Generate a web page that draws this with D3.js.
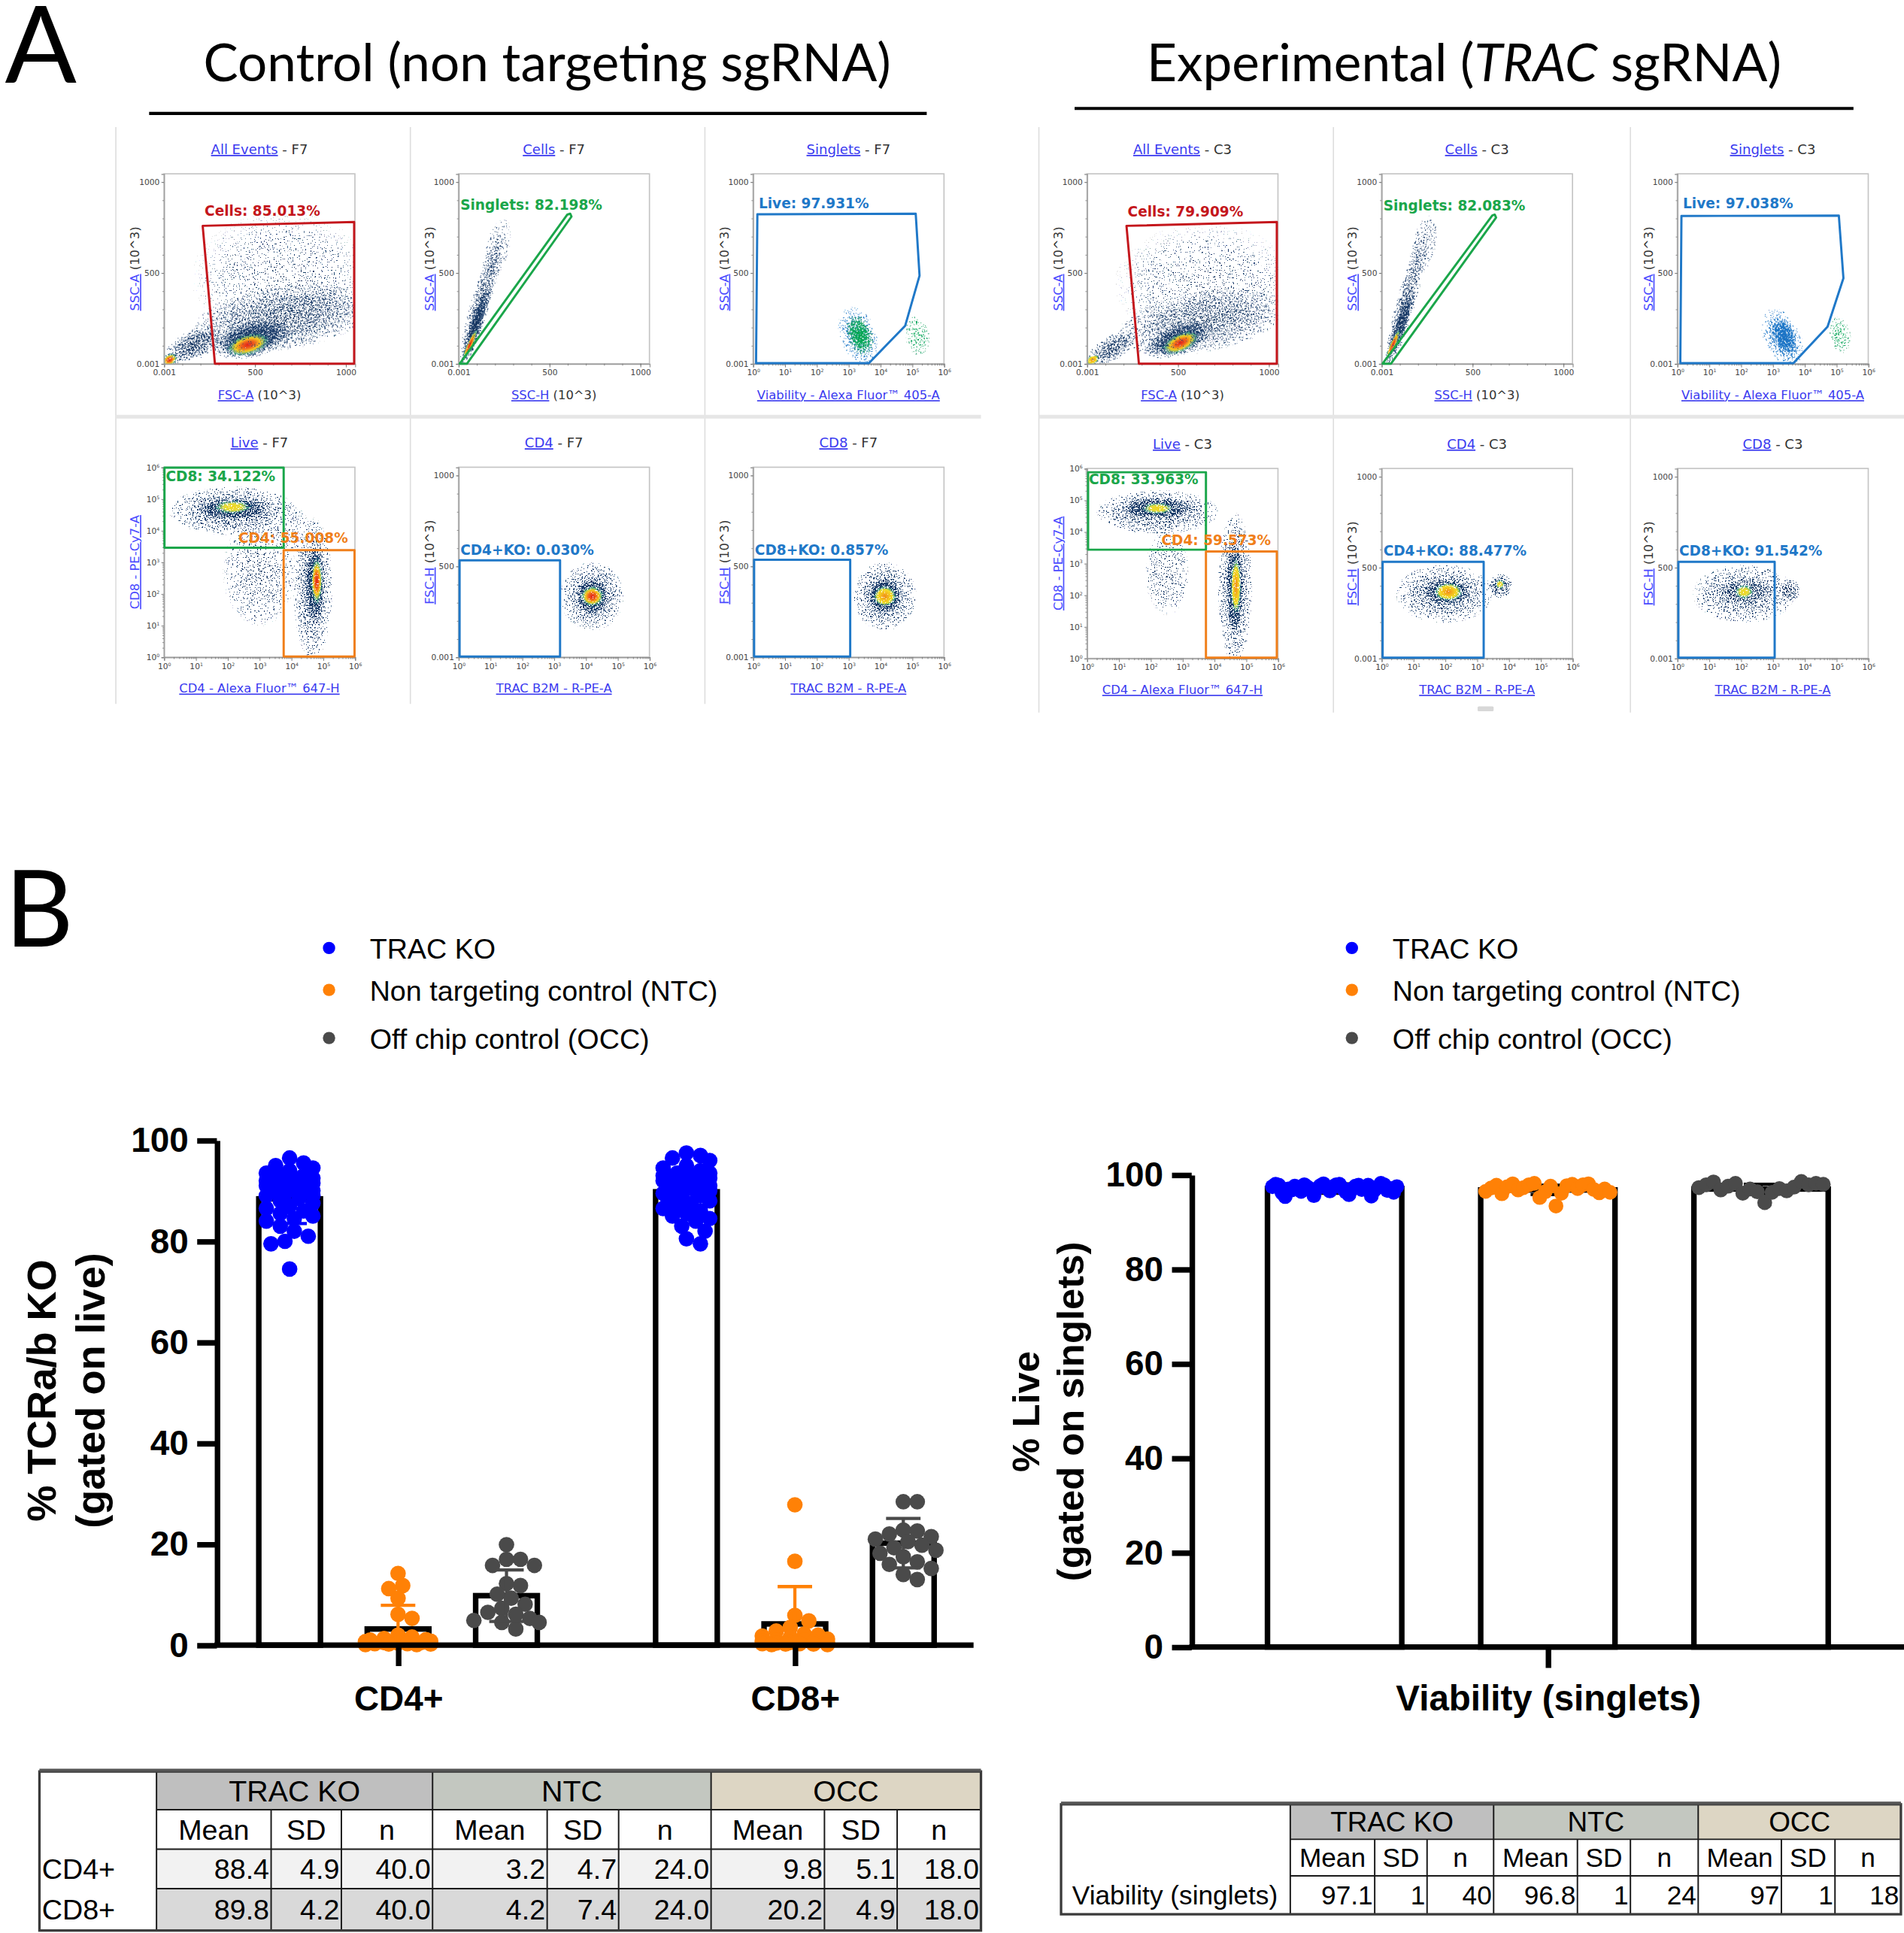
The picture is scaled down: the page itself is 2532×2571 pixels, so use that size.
<!DOCTYPE html>
<html>
<head>
<meta charset="utf-8">
<script src="https://cdn.jsdelivr.net/npm/d3@7"></script>
<style>
  body { margin: 0; background: #fff; }
  svg { display: block; }
</style>
</head>
<body>
<script>
// ---------- DATA : panel B ----------
var cellTypes = ["CD4+", "CD8+"]
var groupNames = ["TRAC KO", "Non targeting control (NTC)", "Off chip control (OCC)"]
var groupShort = ["TRAC KO", "NTC", "OCC"]
var groupColors = ["#0000ff", "#ff8106", "#4a4a4a"]
var koTicks = [0, 20, 40, 60, 80, 100]

var koMean = [[88.4, 3.2, 9.8], [89.8, 4.2, 20.2]]
var koSD = [[4.9, 4.7, 5.1], [4.2, 7.4, 4.9]]
var koN = [[40, 24, 18], [40, 24, 18]]

var cd4Trac = [96.5, 95.5, 95, 94.5, 94, 93.5, 93, 93, 92.5, 92.5, 92, 92, 91.5, 91.5, 91, 91, 90.5, 90.5, 90, 90,
  89.5, 89.5, 89, 89, 88.5, 88, 87.5, 87, 86.5, 86, 85.5, 85, 84.5, 84, 83, 82, 81, 80, 79.5, 74.5]
var cd4Ntc = [14.2, 11.8, 11.2, 9.3, 6.1, 5.3, 2.0, 1.6, 1.3, 1.1, 1.0, 0.9, 0.8, 0.7, 0.6, 0.5, 0.5, 0.4, 0.3, 0.3, 0.2, 0.2, 0.1, 0.1]
var cd4Occ = [19.9, 17, 17, 15.8, 15.8, 12.2, 11.8, 10.1, 9.3, 8.1, 7.3, 6.5, 6.1, 5.3, 4.9, 4.5, 4.5, 3.2]
var cd8Trac = [97.5, 97, 96.5, 96, 95, 94.5, 94, 93.5, 93.5, 93, 93, 92.5, 92.5, 92, 92, 91.5, 91.5, 91, 91, 90.5,
  90.5, 90, 90, 89.5, 89, 89, 88.5, 88, 87.5, 87, 86.5, 86, 85.5, 85, 84.5, 84, 83, 82, 80.5, 79.5]
var cd8Ntc = [27.8, 16.6, 5.9, 4.8, 3.5, 2.8, 2.2, 2.0, 1.8, 1.5, 1.2, 1.0, 1.0, 0.8, 0.6, 0.5, 0.5, 0.4, 0.3, 0.3, 0.2, 0.2, 0.1, 0.1]
var cd8Occ = [28.4, 28.4, 22.8, 22.6, 22, 21.5, 21, 20.5, 19.8, 19.3, 18.8, 18.2, 17.5, 16.5, 16, 15.2, 14, 13]

var viaLabel = "Viability (singlets)"
var viaMean = [97.1, 96.8, 97]
var viaSD = [1, 1, 1]
var viaN = [40, 24, 18]
var viaTrac = [97.5, 98.0, 97.8, 96.2, 95.4, 97.0, 96.8, 97.6, 97.2, 96.5, 97.9, 97.4, 96.9, 95.6, 97.1, 97.7, 98.1, 97.3, 96.6, 97.5,
  97.9, 98.0, 97.2, 96.4, 95.8, 97.0, 97.6, 97.8, 96.9, 97.3, 97.8, 95.5, 96.8, 97.4, 98.2, 97.9, 96.7, 97.1, 96.3, 97.5]
var viaNtc = [96.5, 97.2, 97.8, 96.0, 97.5, 98.1, 96.8, 97.3, 97.9, 98.2, 95.2, 96.4, 97.6, 93.4, 96.1, 97.7, 98.0, 97.1, 97.9, 98.1, 96.9, 96.2, 97.0, 96.3]
var viaOcc = [97.3, 97.9, 98.5, 96.8, 97.6, 98.2, 96.1, 97.0, 96.4, 94.1, 96.3, 97.1, 96.6, 97.4, 98.6, 97.9, 98.2, 98.0]

// ---------- DATA : panel A (gating) ----------
var setTitles = ["Control (non targeting sgRNA)", "Experimental (TRAC sgRNA)"]
var wells = ["F7", "C3"]
var plotTitles = ["All Events", "Cells", "Singlets", "Live", "CD4", "CD8"]
var xLabels = [["FSC-A", " (10^3)"], ["SSC-H", " (10^3)"], ["Viability - Alexa Fluor\u2122 405-A", ""],
  ["CD4 - Alexa Fluor\u2122 647-H", ""], ["TRAC B2M - R-PE-A", ""], ["TRAC B2M - R-PE-A", ""]]
var yLabels = [["SSC-A", " (10^3)"], ["SSC-A", " (10^3)"], ["SSC-A", " (10^3)"],
  ["CD8 - PE-Cy7-A", ""], ["FSC-H", " (10^3)"], ["FSC-H", " (10^3)"]]
var xAxisType = ["lin", "lin", "log", "log", "log", "log"]
var yAxisType = ["lin", "lin", "lin", "log", "lin", "lin"]
var linTicks = [0, 500, 1000]
var logTicks = [0, 1, 2, 3, 4, 5, 6]

var gateNames = ["Cells", "Singlets", "Live", "CD8", "CD4", "CD4+KO", "CD8+KO"]
var gatePlot = [0, 1, 2, 3, 3, 4, 5]
var gatePct = [[85.013, 82.198, 97.931, 34.122, 55.008, 0.030, 0.857],
               [79.909, 82.083, 97.038, 33.963, 59.573, 88.477, 91.542]]

// ---------- LAYOUT ----------
var VW = 1545, VH = 1568
var red = "#c4161c", green = "#1aa64a", blue = "#1f78c8", orange = "#f07f1a", link = "#3a3af0"
var gateColors = [red, green, blue, green, orange, blue, blue]

// gate outlines, in fractions of the plot box
var gateShapes = [
  [
    [[.203, .726], [.996, .746], [.996, 0], [.267, 0]],
    [[.007, 0], [.57, .785], [.585, .79], [.592, .775], [.045, 0]],
    [[.023, .787], [.852, .79], [.872, .464], [.797, .2], [.607, .003], [.016, .003]],
    [[.003, .576], [.627, .576], [.627, .998], [.003, .998]],
    [[.627, .003], [.998, .003], [.998, .563], [.627, .563]],
    [[.006, .003], [.532, .003], [.532, .51], [.006, .51]],
    [[.006, .003], [.509, .003], [.509, .513], [.006, .513]]
  ],
  [
    [[.207, .726], [.994, .746], [.994, 0], [.272, 0]],
    [[.006, 0], [.58, .78], [.593, .785], [.6, .77], [.05, 0]],
    [[.022, .778], [.846, .78], [.87, .45], [.787, .195], [.608, .003], [.016, .003]],
    [[.006, .572], [.623, .572], [.623, .98], [.006, .98]],
    [[.623, .003], [.994, .003], [.994, .563], [.623, .563]],
    [[.006, .003], [.535, .003], [.535, .508], [.006, .508]],
    [[.006, .003], [.51, .003], [.51, .508], [.006, .508]]
  ]
]
var gateLabelPos = [
  [[.213, .78], [.01, .81], [.03, .82], [.01, .925], [.39, .6], [.01, .54], [.01, .54]],
  [[.213, .774], [.01, .807], [.03, .817], [.01, .918], [.39, .596], [.01, .539], [.01, .539]]
]

// event clouds: [fx, fy, rx, ry, rot, density, colour]
var clouds = [
  [
    [[.62, .45, 75, 55, 0, .05], [.62, .24, 74, 26, -8, .42], [.16, .1, 26, 12, -25, .6], [.46, .13, 34, 15, -12, .9]],
    [[.2, .6, 26, 10, -75, .18], [.12, .33, 56, 8, -73, .5], [.09, .2, 34, 5.5, -72, .9]],
    [[.55, .15, 15, 24, -20, .45, "b"], [.56, .15, 10, 17, -20, .95, "g"], [.86, .15, 10, 17, -10, .3, "g"]],
    [[.5, .45, 30, 45, 0, .14], [.62, .68, 22, 22, 0, .12], [.36, .77, 52, 20, 0, .42], [.36, .78, 38, 11, 0, .85],
     [.78, .36, 16, 58, 0, .38], [.79, .38, 10, 40, 0, .9]],
    [[.7, .32, 26, 28, 0, .4], [.7, .32, 17, 19, 0, .9]],
    [[.69, .32, 26, 28, 0, .4], [.69, .32, 17, 19, 0, .9]]
  ],
  [
    [[.62, .42, 75, 50, 0, .05], [.6, .22, 70, 25, -10, .36], [.13, .08, 22, 10, -30, .55], [.48, .13, 30, 13, -20, .85]],
    [[.22, .62, 26, 10, -76, .18], [.13, .33, 56, 8, -74, .45], [.1, .2, 34, 5.5, -72, .85]],
    [[.55, .14, 15, 25, -25, .45, "b"], [.56, .14, 10, 18, -25, .95, "b"], [.85, .15, 9, 15, -10, .3, "g"]],
    [[.42, .45, 18, 35, 0, .15], [.37, .77, 50, 18, 0, .38], [.37, .79, 38, 11, 0, .8],
     [.775, .37, 14, 62, 0, .38], [.775, .37, 9, 48, 0, .85]],
    [[.33, .34, 40, 24, 0, .36], [.34, .35, 26, 14, 0, .8], [.62, .38, 10, 10, 0, .6]],
    [[.35, .34, 42, 24, 0, .32], [.35, .35, 28, 14, 0, .6], [.58, .36, 10, 10, 0, .5]]
  ]
]
// dense cores: [fx, fy, rx, ry, rot, heat]
var cores = [
  [
    [[.44, .1, 19, 9, -15, 1], [.03, .02, 7, 5, -30, .8]],
    [[.06, .1, 15, 2.5, -66, .9]],
    [],
    [[.36, .79, 16, 6, 0, .55], [.8, .4, 5, 20, 0, .85]],
    [[.7, .32, 10, 9, 0, .95]],
    [[.69, .32, 10, 9, 0, .75]]
  ],
  [
    [[.49, .11, 17, 8, -25, .85], [.03, .02, 6, 4, -30, .7]],
    [[.06, .1, 15, 2.5, -66, .85]],
    [],
    [[.37, .79, 14, 5, 0, .5], [.78, .38, 4.5, 24, 0, .6]],
    [[.35, .35, 12, 8, 0, .7], [.62, .39, 4, 4, 0, .45]],
    [[.35, .35, 8, 6, 0, .45]]
  ]
]

var boxLeft = [[133, 372, 611], [882, 1121, 1361]]
var boxTop = [141, 379]
var boxW = 155, boxH = 154
var cellX = [[94, 333, 572, 796], [843, 1082, 1323, 1545]]

var svg = d3.select("body").append("svg")
  .attr("width", 2532)
  .attr("height", 2571)
  .attr("viewBox", "0 0 " + VW + " " + VH)
  .attr("preserveAspectRatio", "none")

var defs = svg.append("defs")

// speckle filter: turns a soft cloud into scattered event dots
var spk = defs.append("filter").attr("id", "spk")
  .attr("x", "-15%").attr("y", "-15%").attr("width", "130%").attr("height", "130%")
  .attr("color-interpolation-filters", "sRGB")
spk.append("feTurbulence").attr("type", "fractalNoise").attr("baseFrequency", 0.9)
  .attr("numOctaves", 2).attr("seed", 5).attr("result", "n")
spk.append("feColorMatrix").attr("in", "n").attr("type", "matrix")
  .attr("values", "0 0 0 0 0  0 0 0 0 0  0 0 0 0 0  2.6 0 0 0 -0.8").attr("result", "na")
spk.append("feComposite").attr("in", "SourceAlpha").attr("in2", "na").attr("operator", "arithmetic")
  .attr("k1", 0).attr("k2", 30).attr("k3", -30).attr("k4", 0).attr("result", "m")
spk.append("feColorMatrix").attr("in", "SourceGraphic").attr("type", "matrix")
  .attr("values", "1 0 0 0 0  0 1 0 0 0  0 0 1 0 0  0 0 0 0 1").attr("result", "solid")
spk.append("feComposite").attr("in", "solid").attr("in2", "m").attr("operator", "in")

function radial(id, stops) {
  var gr = defs.append("radialGradient").attr("id", id)
  stops.forEach(function(s) {
    gr.append("stop").attr("offset", s[0]).attr("stop-color", s[1]).attr("stop-opacity", s[2])
  })
}
radial("spk-n", [[0, "#16355f", 1], [.55, "#1b3d6b", .75], [1, "#1d4272", 0]])
radial("spk-g", [[0, "#00a651", 1], [.6, "#10a860", .7], [1, "#2a9d6a", 0]])
radial("spk-b", [[0, "#1c73c4", 1], [.6, "#1f78c8", .7], [1, "#2b7fcc", 0]])
radial("hot-r", [[0, "#e0201c", 1], [.3, "#f0641c", 1], [.55, "#f6cc1f", 1], [.78, "#4fae8c", .55], [1, "#23608c", 0]])
radial("hot-o", [[0, "#f08a1c", 1], [.35, "#f4bf1e", 1], [.6, "#f2de2a", .9], [.8, "#4fae8c", .5], [1, "#23608c", 0]])
radial("hot-y", [[0, "#f3d51f", 1], [.45, "#e6dc3c", .85], [.75, "#49a58e", .5], [1, "#23608c", 0]])

// ---------- PANEL A ----------
svg.append("text").attr("x", 4).attr("y", 67)
  .style("font-family", "Lato, 'Open Sans', sans-serif").style("font-size", "86px")
  .text("A")

var titleX = [444, 1188], titleW = [558, 515], lineX = [[121, 752], [872, 1504]], lineY = [92, 88]

setTitles.forEach(function(t, s) {
  var txt = svg.append("text").attr("x", titleX[s]).attr("y", 66)
    .attr("text-anchor", "middle")
    .attr("textLength", titleW[s]).attr("lengthAdjust", "spacingAndGlyphs")
    .style("font-family", "Lato, 'Open Sans', sans-serif").style("font-size", "43px")
  if (s == 0) {
    txt.text(t)
  } else {
    txt.append("tspan").text("Experimental (")
    txt.append("tspan").style("font-style", "italic").text("TRAC")
    txt.append("tspan").text(" sgRNA)")
  }
  svg.append("line").attr("x1", lineX[s][0]).attr("x2", lineX[s][1])
    .attr("y1", lineY[s]).attr("y2", lineY[s])
    .attr("stroke", "#000").attr("stroke-width", 2.5)
})

// grid separators
;[0, 1].forEach(function(s) {
  var cx = cellX[s]
  var grid = svg.append("g").attr("stroke", "#dedede")
  cx.slice(0, 3).forEach(function(x) {
    grid.append("line").attr("x1", x).attr("x2", x).attr("y1", 103).attr("y2", s ? 578 : 571).attr("stroke-width", 1)
  })
  grid.append("line").attr("x1", cx[0]).attr("x2", cx[3]).attr("y1", 338).attr("y2", 338)
    .attr("stroke", "#e6e6e6").attr("stroke-width", 3)
})
svg.append("rect").attr("x", 1199).attr("y", 573).attr("width", 13).attr("height", 4)
  .attr("rx", 1).attr("fill", "#d8d8d8")

var flowFont = "'DejaVu Sans', Verdana, sans-serif"

function logMinor() {
  var out = []
  for (var k = 0; k < 6; k++) for (var m = 2; m < 10; m++) out.push(k + Math.log10(m))
  return out
}

function styleAxis(a, fs) {
  a.select(".domain").attr("stroke", "#9a9a9a").attr("stroke-width", 0.8)
  a.selectAll(".tick line").attr("stroke", "#777").attr("stroke-width", 0.6)
  a.selectAll("text").attr("fill", "#444").style("font-family", flowFont).style("font-size", fs + "px")
  a.attr("font-family", null).attr("font-size", null)
}

function superscript(a) {
  a.selectAll(".tick text").each(function(d) {
    var t = d3.select(this)
    t.text("10")
    t.append("tspan").attr("dy", -2.5).style("font-size", "3.8px").text(d)
  })
}

function drawFlow(s, p) {
  var row = p < 3 ? 0 : 1, col = p % 3
  var bx = boxLeft[s][col], by = boxTop[row] + (s == 1 && row == 1 ? 1 : 0)
  var fx = d3.scaleLinear().domain([0, 1]).range([bx, bx + boxW])
  var fy = d3.scaleLinear().domain([0, 1]).range([by + boxH, by])
  var g = svg.append("g").attr("class", "flow")

  // title
  var tt = g.append("text").attr("x", bx + boxW / 2).attr("y", by - 16).attr("text-anchor", "middle")
    .style("font-family", flowFont).style("font-size", "11px")
  tt.append("tspan").attr("fill", link).attr("text-decoration", "underline").text(plotTitles[p])
  tt.append("tspan").attr("fill", "#333").text(" - " + wells[s])

  // frame
  g.append("rect").attr("x", bx).attr("y", by).attr("width", boxW).attr("height", boxH)
    .attr("fill", "#fff").attr("stroke", "#c4c4c4").attr("stroke-width", 1)

  // events
  var cid = "clip" + s + p
  defs.append("clipPath").attr("id", cid).append("rect")
    .attr("x", bx).attr("y", by).attr("width", boxW).attr("height", boxH)
  var ev = g.append("g").attr("clip-path", "url(#" + cid + ")")
  clouds[s][p].forEach(function(c) {
    var cx = fx(c[0]), cy = fy(c[1])
    ev.append("ellipse").attr("cx", cx).attr("cy", cy).attr("rx", c[2]).attr("ry", c[3])
      .attr("transform", "rotate(" + c[4] + "," + cx + "," + cy + ")")
      .attr("fill", "url(#spk-" + (c[6] || "n") + ")").attr("fill-opacity", c[5])
      .attr("filter", "url(#spk)")
  })
  cores[s][p].forEach(function(c) {
    var cx = fx(c[0]), cy = fy(c[1])
    var grad = c[5] >= 0.8 ? "hot-r" : (c[5] >= 0.6 ? "hot-o" : "hot-y")
    ev.append("ellipse").attr("cx", cx).attr("cy", cy).attr("rx", c[2]).attr("ry", c[3])
      .attr("transform", "rotate(" + c[4] + "," + cx + "," + cy + ")")
      .attr("fill", "url(#" + grad + ")").attr("filter", "url(#spk)")
  })

  // axes
  var xLin = xAxisType[p] == "lin", yLin = yAxisType[p] == "lin"
  var xs = xLin ? d3.scaleLinear().domain([0, 1051]).range([bx, bx + boxW])
                : d3.scaleLinear().domain([0, 6]).range([bx, bx + boxW])
  var ys = yLin ? d3.scaleLinear().domain([0, 1044]).range([by + boxH, by])
                : d3.scaleLinear().domain([0, 6]).range([by + boxH, by])
  var linFmt = function(d) { return d == 0 ? "0.001" : d }

  var ax = g.append("g").attr("transform", "translate(0," + (by + boxH) + ")")
    .call(d3.axisBottom(xs).tickValues(xLin ? linTicks : logTicks).tickSize(3).tickPadding(2)
      .tickFormat(xLin ? linFmt : function(d) { return d }))
  styleAxis(ax, 6.5)
  if (!xLin) superscript(ax)
  var axm = g.append("g").attr("transform", "translate(0," + (by + boxH) + ")")
    .call(d3.axisBottom(xs).tickValues(xLin ? d3.range(100, 1001, 100) : logMinor()).tickSize(1.6).tickFormat(""))
  axm.select(".domain").remove()
  axm.selectAll("line").attr("stroke", "#777").attr("stroke-width", 0.5)

  var ay = g.append("g").attr("transform", "translate(" + bx + ",0)")
    .call(d3.axisLeft(ys).tickValues(yLin ? linTicks : logTicks).tickSize(2).tickPadding(1.5)
      .tickFormat(yLin ? linFmt : function(d) { return d }))
  styleAxis(ay, 6.5)
  if (!yLin) superscript(ay)
  var aym = g.append("g").attr("transform", "translate(" + bx + ",0)")
    .call(d3.axisLeft(ys).tickValues(yLin ? d3.range(100, 1001, 100) : logMinor()).tickSize(1.2).tickFormat(""))
  aym.select(".domain").remove()
  aym.selectAll("line").attr("stroke", "#777").attr("stroke-width", 0.5)

  // axis titles
  var xt = g.append("text").attr("x", bx + boxW / 2).attr("y", by + boxH + 29).attr("text-anchor", "middle")
    .style("font-family", flowFont).style("font-size", "10px")
  xt.append("tspan").attr("fill", link).attr("text-decoration", "underline").text(xLabels[p][0])
  if (xLabels[p][1]) xt.append("tspan").attr("fill", "#333").text(xLabels[p][1])

  var yt = g.append("text").attr("transform", "translate(" + (bx - 20) + "," + (by + boxH / 2) + ") rotate(-90)")
    .attr("text-anchor", "middle").style("font-family", flowFont).style("font-size", "10px")
  yt.append("tspan").attr("fill", "#4a4aff").attr("text-decoration", "underline").text(yLabels[p][0])
  if (yLabels[p][1]) yt.append("tspan").attr("fill", "#333").text(yLabels[p][1])

  // gates
  gatePlot.forEach(function(gp, k) {
    if (gp != p) return
    var line = d3.line().x(function(d) { return fx(d[0]) }).y(function(d) { return fy(d[1]) })
    g.append("path").attr("d", line(gateShapes[s][k]) + "Z")
      .attr("fill", "none").attr("stroke", gateColors[k]).attr("stroke-width", 1.8)
      .attr("stroke-linejoin", "round")
    g.append("text").attr("x", fx(gateLabelPos[s][k][0])).attr("y", fy(gateLabelPos[s][k][1]))
      .attr("fill", gateColors[k]).style("font-family", flowFont).style("font-weight", "bold")
      .style("font-size", "11.3px")
      .text(gateNames[k] + ": " + d3.format(".3f")(gatePct[s][k]) + "%")
  })
}

;[0, 1].forEach(function(s) {
  d3.range(6).forEach(function(p) { drawFlow(s, p) })
})

// ---------- PANEL B ----------
var arial = "'Liberation Sans', Arial, Helvetica, sans-serif"

svg.append("text").attr("x", 4).attr("y", 768)
  .style("font-family", "Lato, 'Open Sans', sans-serif").style("font-size", "86px")
  .text("B")

function legend(x, tx) {
  var lg = svg.append("g")
  var rows = [769, 803, 842]
  groupNames.forEach(function(n, i) {
    lg.append("circle").attr("cx", x).attr("cy", rows[i]).attr("r", 5).attr("fill", groupColors[i])
    lg.append("text").attr("x", tx).attr("y", rows[i] + 8.5).text(n)
      .style("font-family", arial).style("font-size", "23px").attr("fill", "#000")
  })
}
legend(267, 300)
legend(1097, 1130)

function swarm(vals, cx, ys, r, half) {
  var pts = vals.map(function(v) { return { v: v, y: ys(v) } })
    .sort(function(a, b) { return b.v - a.v })
  var placed = [], step = r * 0.6, lim = 2 * r * 0.8
  pts.forEach(function(p) {
    var best = 0, bestCost = Infinity
    var kmax = 2 * Math.floor(half / step)
    for (var k = 0; k <= kmax; k++) {
      var off = (k % 2 ? 1 : -1) * Math.ceil(k / 2) * step
      var cost = 0
      placed.forEach(function(q) {
        var dx = off - q.dx, dy = p.y - q.y, dd = Math.sqrt(dx * dx + dy * dy)
        if (dd < lim) cost += lim - dd
      })
      if (cost < bestCost - 1e-9) { bestCost = cost; best = off }
      if (cost === 0) break
    }
    p.dx = best
    placed.push(p)
  })
  return placed.map(function(p) { return { x: cx + p.dx, y: p.y } })
}

function boldAxis(a) {
  a.select(".domain").attr("stroke", "#000").attr("stroke-width", 4.5)
  a.selectAll(".tick line").attr("stroke", "#000").attr("stroke-width", 4.5)
  a.selectAll("text").attr("fill", "#000").style("font-family", arial)
    .style("font-weight", "bold").style("font-size", "28px")
  a.attr("font-family", null).attr("font-size", null)
}

function errorBar(g, cx, ys, m, sd, color) {
  var lo = Math.max(0, m - sd), hi = m + sd
  g.append("line").attr("x1", cx).attr("x2", cx).attr("y1", ys(lo)).attr("y2", ys(hi))
    .attr("stroke", color).attr("stroke-width", 2.6)
  ;[lo, hi].forEach(function(v) {
    g.append("line").attr("x1", cx - 14).attr("x2", cx + 14).attr("y1", ys(v)).attr("y2", ys(v))
      .attr("stroke", color).attr("stroke-width", 2.6)
  })
}

// left chart: TCRa/b knock-out
var koPoints = [[cd4Trac, cd4Ntc, cd4Occ], [cd8Trac, cd8Ntc, cd8Occ]]
var swarmHalf = [22, 27, 27]
var yL = d3.scaleLinear().domain([0, 100]).range([1334.5, 925])
var x0 = d3.scaleBand().domain(cellTypes).range([208, 760]).paddingInner(0.2857).paddingOuter(0)
var x1 = d3.scaleBand().domain(groupShort).range([0, x0.bandwidth()]).paddingInner(0.386).paddingOuter(0)
var left = svg.append("g")

cellTypes.forEach(function(ct, ci) {
  groupShort.forEach(function(gs, gi) {
    left.append("rect").attr("x", x0(ct) + x1(gs) + 2).attr("y", yL(koMean[ci][gi]))
      .attr("width", x1.bandwidth() - 4).attr("height", yL(0) - yL(koMean[ci][gi]))
      .attr("fill", "#fff").attr("stroke", "#000").attr("stroke-width", 4.5)
  })
})
cellTypes.forEach(function(ct, ci) {
  groupShort.forEach(function(gs, gi) {
    var cx = x0(ct) + x1(gs) + x1.bandwidth() / 2
    swarm(koPoints[ci][gi], cx, yL, 6.3, swarmHalf[gi]).forEach(function(d) {
      left.append("circle").attr("cx", d.x).attr("cy", d.y).attr("r", 6.3).attr("fill", groupColors[gi])
    })
  })
})
cellTypes.forEach(function(ct, ci) {
  groupShort.forEach(function(gs, gi) {
    var cx = x0(ct) + x1(gs) + x1.bandwidth() / 2
    errorBar(left, cx, yL, koMean[ci][gi], koSD[ci][gi], groupColors[gi])
  })
})

var ayL = left.append("g").attr("transform", "translate(176,0)")
  .call(d3.axisLeft(yL).tickValues(koTicks).tickSize(16).tickSizeOuter(0).tickPadding(7))
boldAxis(ayL)
left.append("line").attr("x1", 174).attr("x2", 790).attr("y1", yL(0)).attr("y2", yL(0))
  .attr("stroke", "#000").attr("stroke-width", 4.5)
var gPoint = d3.scalePoint().domain(cellTypes).range([x0("CD4+") + x0.bandwidth() / 2, x0("CD8+") + x0.bandwidth() / 2])
var axL = left.append("g").attr("transform", "translate(0," + yL(0) + ")")
  .call(d3.axisBottom(gPoint).tickSize(17).tickSizeOuter(0).tickPadding(16))
boldAxis(axL)
axL.select(".domain").remove()

left.append("text").attr("transform", "translate(45,1128) rotate(-90)").attr("text-anchor", "middle")
  .style("font-family", arial).style("font-weight", "bold").style("font-size", "33px").text("% TCRa/b KO")
left.append("text").attr("transform", "translate(85,1128) rotate(-90)").attr("text-anchor", "middle")
  .style("font-family", arial).style("font-weight", "bold").style("font-size", "33px").text("(gated on live)")

// right chart: viability
var viaPoints = [viaTrac, viaNtc, viaOcc]
var yR = d3.scaleLinear().domain([0, 100]).range([1336, 953])
var xR = d3.scaleBand().domain(groupShort).range([1026.5, 1485.5]).paddingInner(0.347).paddingOuter(0)
var right = svg.append("g")

groupShort.forEach(function(gs, gi) {
  right.append("rect").attr("x", xR(gs) + 2).attr("y", yR(viaMean[gi]))
    .attr("width", xR.bandwidth() - 4).attr("height", yR(0) - yR(viaMean[gi]))
    .attr("fill", "#fff").attr("stroke", "#000").attr("stroke-width", 4.5)
})
groupShort.forEach(function(gs, gi) {
  var cx = xR(gs) + xR.bandwidth() / 2
  errorBar(right, cx, yR, viaMean[gi], viaSD[gi], "#000")
  var pts = viaPoints[gi], span = xR.bandwidth() - 12
  pts.forEach(function(v, i) {
    right.append("circle").attr("cx", cx + (i / (pts.length - 1) - 0.5) * span).attr("cy", yR(v))
      .attr("r", 6).attr("fill", groupColors[gi])
  })
})

var ayR = right.append("g").attr("transform", "translate(967,0)")
  .call(d3.axisLeft(yR).tickValues(koTicks).tickSize(16).tickSizeOuter(0).tickPadding(7))
boldAxis(ayR)
right.append("line").attr("x1", 965).attr("x2", 1545).attr("y1", yR(0)).attr("y2", yR(0))
  .attr("stroke", "#000").attr("stroke-width", 4.5)
var vPoint = d3.scalePoint().domain([viaLabel]).range([967, 1545])
var axR = right.append("g").attr("transform", "translate(0," + yR(0) + ")")
  .call(d3.axisBottom(vPoint).tickSize(17).tickSizeOuter(0).tickPadding(14))
boldAxis(axR)
axR.select(".domain").remove()
axR.selectAll("text").style("font-size", "29px")

right.append("text").attr("transform", "translate(843,1145) rotate(-90)").attr("text-anchor", "middle")
  .style("font-family", arial).style("font-weight", "bold").style("font-size", "31px").text("% Live")
right.append("text").attr("transform", "translate(879,1145) rotate(-90)").attr("text-anchor", "middle")
  .style("font-family", arial).style("font-weight", "bold").style("font-size", "31px").text("(gated on singlets)")

// ---------- TABLES ----------
var headFills = ["#bfbfbf", "#c3c7c0", "#ddd6c4"]
var subHeads = ["Mean", "SD", "n"]

function drawTable(xs, ys, fs, rows, rowFills, labelX) {
  var t = svg.append("g").style("font-family", arial).style("font-size", fs + "px")
  var nR = ys.length - 1
  // fills
  groupShort.forEach(function(gs, gi) {
    t.append("rect").attr("x", xs[1 + 3 * gi]).attr("y", ys[0])
      .attr("width", xs[4 + 3 * gi] - xs[1 + 3 * gi]).attr("height", ys[1] - ys[0]).attr("fill", headFills[gi])
  })
  rows.forEach(function(r, ri) {
    t.append("rect").attr("x", xs[1]).attr("y", ys[2 + ri])
      .attr("width", xs[10] - xs[1]).attr("height", ys[3 + ri] - ys[2 + ri]).attr("fill", rowFills[ri])
  })
  // lines
  var ln = t.append("g").attr("stroke", "#1a1a1a").attr("stroke-width", 1.2)
  for (var k = 1; k < nR; k++) {
    ln.append("line").attr("x1", xs[1]).attr("x2", xs[10]).attr("y1", ys[k]).attr("y2", ys[k])
  }
  ;[1, 4, 7].forEach(function(c) {
    ln.append("line").attr("x1", xs[c]).attr("x2", xs[c]).attr("y1", ys[0]).attr("y2", ys[nR])
  })
  ;[2, 3, 5, 6, 8, 9].forEach(function(c) {
    ln.append("line").attr("x1", xs[c]).attr("x2", xs[c]).attr("y1", ys[1]).attr("y2", ys[nR])
  })
  t.append("rect").attr("x", xs[0]).attr("y", ys[0]).attr("width", xs[10] - xs[0]).attr("height", ys[nR] - ys[0])
    .attr("fill", "none").attr("stroke", "#3a3a3a").attr("stroke-width", 2)
  t.append("line").attr("x1", xs[0]).attr("x2", xs[10]).attr("y1", ys[0] - 1).attr("y2", ys[0] - 1)
    .attr("stroke", "#555").attr("stroke-width", 2.5)
  // text
  var mid = function(a, b, fsz) { return (a + b) / 2 + fsz * 0.36 }
  groupShort.forEach(function(gs, gi) {
    t.append("text").attr("x", (xs[1 + 3 * gi] + xs[4 + 3 * gi]) / 2).attr("y", mid(ys[0], ys[1], fs + 1))
      .attr("text-anchor", "middle").style("font-size", (fs + 1) + "px").text(gs)
    subHeads.forEach(function(h, hi) {
      var c = 1 + 3 * gi + hi
      t.append("text").attr("x", (xs[c] + xs[c + 1]) / 2).attr("y", mid(ys[1], ys[2], fs))
        .attr("text-anchor", "middle").text(h)
    })
  })
  rows.forEach(function(r, ri) {
    var y = mid(ys[2 + ri], ys[3 + ri], fs)
    t.append("text").attr("x", labelX).attr("y", y).text(r.label)
    r.values.forEach(function(v, vi) {
      t.append("text").attr("x", xs[vi + 2] - 1.5).attr("y", y).attr("text-anchor", "end").text(r.fmt(v))
    })
  })
}

var f1 = d3.format(".1f")
var koRows = cellTypes.map(function(ct, ci) {
  var vals = []
  groupShort.forEach(function(gs, gi) { vals.push(koMean[ci][gi], koSD[ci][gi], koN[ci][gi]) })
  return { label: ct, values: vals, fmt: f1 }
})
drawTable([32, 127, 220, 277, 351, 444, 502, 577, 669, 728, 796], [1437, 1468, 1500, 1532, 1566], 23,
  koRows, ["#f2f2f2", "#d9d9d9"], 34)

var viaVals = []
groupShort.forEach(function(gs, gi) { viaVals.push(viaMean[gi], viaSD[gi], viaN[gi]) })
drawTable([861, 1047, 1115.5, 1158, 1212, 1280, 1323, 1378, 1445.5, 1489, 1542.5], [1463.6, 1492, 1521.7, 1552.8], 21.5,
  [{ label: viaLabel, values: viaVals, fmt: function(v) { return String(v) } }], ["#fff"], 870)
</script>
</body>
</html>
